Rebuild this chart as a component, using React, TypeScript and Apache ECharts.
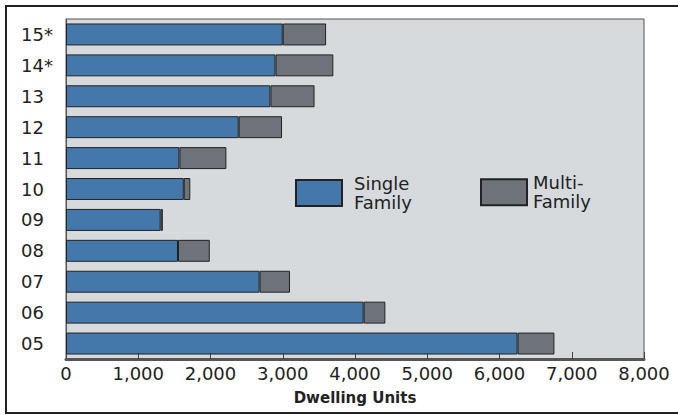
import React, { useEffect, useRef } from "react";
import * as echarts from "echarts";

const categories = ["05", "06", "07", "08", "09", "10", "11", "12", "13", "14*", "15*"];
const singleFamily = [6250, 4120, 2680, 1550, 1310, 1630, 1570, 2390, 2830, 2900, 3000];
const multiFamily = [510, 300, 420, 440, 30, 90, 650, 600, 610, 800, 600];
const xTicks = { min: 0, max: 8000, interval: 1000 };
const seriesNames = ["Single Family", "Multi-Family"];
const legendLabels: Record<string, string> = {
  "Single Family": "Single\nFamily",
  "Multi-Family": "Multi-\nFamily",
};

const FONT = "DejaVu Sans";

export default function App() {
  const ref = useRef<HTMLDivElement>(null);
  useEffect(() => {
    if (!ref.current) return;
    const chart = echarts.init(ref.current, undefined, { renderer: "svg" });
    chart.setOption({
      animation: false,
      backgroundColor: "#ffffff",
      textStyle: { fontFamily: FONT },
      graphic: [
        {
          type: "rect",
          shape: { x: 6, y: 6, width: 720, height: 407 },
          style: { fill: "none", stroke: "#222", lineWidth: 2 },
          silent: true,
          z: 100,
        },
      ],
      grid: {
        left: 66,
        top: 19,
        right: 34,
        bottom: 56,
        show: true,
        backgroundColor: "#d6dadd",
        borderColor: "#555",
        borderWidth: 1,
      },
      legend: [
        {
          data: [{ name: seriesNames[0], icon: "rect" }],
          left: 295,
          top: 169.5,
          padding: 0,
          itemWidth: 46,
          itemHeight: 26,
          selectedMode: false,
          formatter: (n: string) => legendLabels[n],
          textStyle: {
            fontFamily: FONT,
            fontSize: 18,
            lineHeight: 19,
            color: "#222",
            padding: [9, 0, 0, 7],
          },
        },
        {
          data: [{ name: seriesNames[1], icon: "rect" }],
          left: 480,
          top: 171.5,
          padding: 0,
          itemWidth: 46,
          itemHeight: 26,
          selectedMode: false,
          formatter: (n: string) => legendLabels[n],
          textStyle: {
            fontFamily: FONT,
            fontSize: 18,
            lineHeight: 19,
            color: "#222",
            padding: [3.6, 0, 0, 1],
          },
        },
      ],
      xAxis: {
        type: "value",
        min: xTicks.min,
        max: xTicks.max,
        interval: xTicks.interval,
        name: "Dwelling Units",
        nameLocation: "middle",
        nameGap: 31,
        nameTextStyle: { fontFamily: FONT, fontSize: 15, fontWeight: "bold", color: "#222" },
        axisLine: { show: true, lineStyle: { color: "#555", width: 3 } },
        axisTick: { show: true, inside: true, length: 7, lineStyle: { color: "#444", width: 1 } },
        splitLine: { show: false },
        axisLabel: {
          margin: 5,
          fontFamily: FONT,
          fontSize: 18,
          color: "#222",
          formatter: (v: number) => v.toLocaleString("en-US"),
        },
      },
      yAxis: {
        type: "category",
        data: categories,
        axisLine: { show: true, lineStyle: { color: "#555", width: 1 } },
        axisTick: { show: false },
        axisLabel: {
          align: "left",
          margin: 45,
          fontFamily: FONT,
          fontSize: 18,
          color: "#222",
        },
      },
      series: [
        {
          name: seriesNames[0],
          type: "bar",
          stack: "total",
          data: singleFamily,
          barCategoryGap: "29%",
          itemStyle: { color: "#4478ab", borderColor: "#222", borderWidth: 1 },
        },
        {
          name: seriesNames[1],
          type: "bar",
          stack: "total",
          data: multiFamily,
          barCategoryGap: "29%",
          itemStyle: { color: "#6e737a", borderColor: "#222", borderWidth: 1 },
        },
      ],
    });
    return () => chart.dispose();
  }, []);
  return (
    <div
      ref={ref}
      style={{ position: "absolute", left: 0, top: 0, width: 678, height: 415, background: "#fff" }}
    />
  );
}
